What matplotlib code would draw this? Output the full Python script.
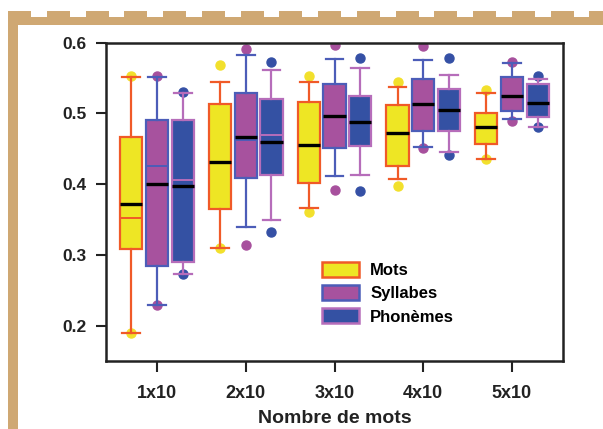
import matplotlib
matplotlib.use("Agg")
import matplotlib.pyplot as plt
from matplotlib.patches import Patch, Rectangle
import numpy as np

plt.rcParams['font.family'] = ['Liberation Sans', 'DejaVu Sans']
plt.rcParams['font.weight'] = 'bold'

groups = ["1x10", "2x10", "3x10", "4x10", "5x10"]
series = ["Mots", "Syllabes", "Phonèmes"]

# per series: lower whisker, q1, median, q3, upper whisker, mean, outlier dots
mots_lo = [0.190, 0.310, 0.367, 0.407, 0.435]
mots_q1 = [0.309, 0.365, 0.401, 0.426, 0.457]
mots_med = [0.372, 0.431, 0.456, 0.472, 0.481]
mots_q3 = [0.467, 0.513, 0.516, 0.512, 0.500]
mots_hi = [0.551, 0.545, 0.545, 0.537, 0.529]
mots_mean = [0.352, 0.431, 0.456, 0.472, 0.481]
mots_out = [[0.553, 0.190], [0.569, 0.310], [0.553, 0.360], [0.544, 0.398], [0.533, 0.435]]

syl_lo = [0.229, 0.340, 0.412, 0.453, 0.492]
syl_q1 = [0.285, 0.409, 0.451, 0.475, 0.504]
syl_med = [0.400, 0.466, 0.496, 0.514, 0.525]
syl_q3 = [0.491, 0.529, 0.542, 0.548, 0.552]
syl_hi = [0.551, 0.583, 0.577, 0.576, 0.571]
syl_mean = [0.425, 0.463, 0.496, 0.514, 0.525]
syl_out = [[0.553, 0.229], [0.591, 0.314], [0.597, 0.392], [0.595, 0.451], [0.573, 0.490]]

pho_lo = [0.273, 0.350, 0.413, 0.446, 0.481]
pho_q1 = [0.290, 0.413, 0.454, 0.475, 0.495]
pho_med = [0.397, 0.459, 0.488, 0.505, 0.515]
pho_q3 = [0.491, 0.520, 0.525, 0.534, 0.542]
pho_hi = [0.529, 0.561, 0.564, 0.555, 0.548]
pho_mean = [0.406, 0.470, 0.488, 0.505, 0.515]
pho_out = [[0.531, 0.273], [0.573, 0.332], [0.579, 0.390], [0.578, 0.441], [0.553, 0.481]]

data = [
    (mots_lo, mots_q1, mots_med, mots_q3, mots_hi, mots_mean, mots_out),
    (syl_lo, syl_q1, syl_med, syl_q3, syl_hi, syl_mean, syl_out),
    (pho_lo, pho_q1, pho_med, pho_q3, pho_hi, pho_mean, pho_out),
]
faces = ['#EEE624', '#A7529E', '#3451A3']
edges = ['#F05A28', '#4C5DB8', '#B66DBA']
dots = ['#F2E02C', '#A7509D', '#3550A5']
offsets = [-0.29, 0.0, 0.29]

W, H = 603, 429
fig = plt.figure(figsize=(W / 100, H / 100), dpi=100)
ax = fig.add_axes([106 / W, 1 - 361 / H, (563 - 106) / W, (361 - 42.7) / H])

x = np.arange(1, len(groups) + 1)
for k, (lo, q1, med, q3, hi, mean, out) in enumerate(data):
    stats = []
    for i in range(len(groups)):
        stats.append(dict(whislo=lo[i], q1=q1[i], med=med[i], q3=q3[i], whishi=hi[i],
                          mean=mean[i], fliers=out[i]))
    ax.bxp(stats, positions=x + offsets[k], widths=0.25, capwidths=0.2,
           patch_artist=True, showmeans=True, meanline=True,
           boxprops=dict(facecolor=faces[k], edgecolor=edges[k], linewidth=1.6),
           whiskerprops=dict(color=edges[k], linewidth=1.6),
           capprops=dict(color=edges[k], linewidth=1.6),
           medianprops=dict(color='black', linewidth=2.4, zorder=3),
           meanprops=dict(color=edges[k], linestyle='-', linewidth=1.4, zorder=2.5),
           flierprops=dict(marker='o', markersize=6.5, markerfacecolor=dots[k],
                           markeredgecolor=dots[k], zorder=1.5))

ax.set_xlim(0.425, 5.575)
ax.set_ylim(0.15, 0.6)
ax.set_xticks(x)
ax.set_xticklabels(groups, fontsize=13, fontweight='bold')
ax.set_yticks([0.2, 0.3, 0.4, 0.5, 0.6])
ax.set_yticklabels(['0.2', '0.3', '0.4', '0.5', '0.6'], fontsize=12.5, fontweight='bold')
ax.tick_params(axis='x', direction='out', length=8, width=1.5, pad=9, colors='#222222', labelcolor='#222222')
ax.tick_params(axis='y', direction='out', length=7, width=1.5, pad=7, colors='#222222', labelcolor='#222222')
for s in ax.spines.values():
    s.set_linewidth(1.8)
    s.set_color('#222222')
ax.set_xlabel("Nombre de mots", fontsize=14, fontweight='bold', labelpad=6, color='#222222')

handles = [Patch(facecolor=faces[k], edgecolor=edges[k], linewidth=1.8, label=series[k]) for k in range(3)]
ax.legend(handles=handles, loc='upper left', bbox_to_anchor=(307 / W, 1 - 247 / H),
          bbox_transform=fig.transFigure, frameon=False, prop=dict(size=12, weight='bold'),
          handlelength=2.2, handleheight=1.0, handletextpad=0.7, labelspacing=0.42)

# tan page decoration
tan = '#CFA873'
def px_rect(x0, y0, x1, y1):
    fig.patches.append(Rectangle((x0 / W, 1 - y1 / H), (x1 - x0) / W, (y1 - y0) / H,
                                 transform=fig.transFigure, figure=fig, facecolor=tan,
                                 edgecolor='none', zorder=5))

px_rect(8, 11, 17.5, H)
px_rect(8, 17, W, 25)
t = 8.0
while t < W:
    px_rect(t, 11, min(t + 23, W), 17.5)
    t += 38.75

fig.savefig("out.png", dpi=100)
